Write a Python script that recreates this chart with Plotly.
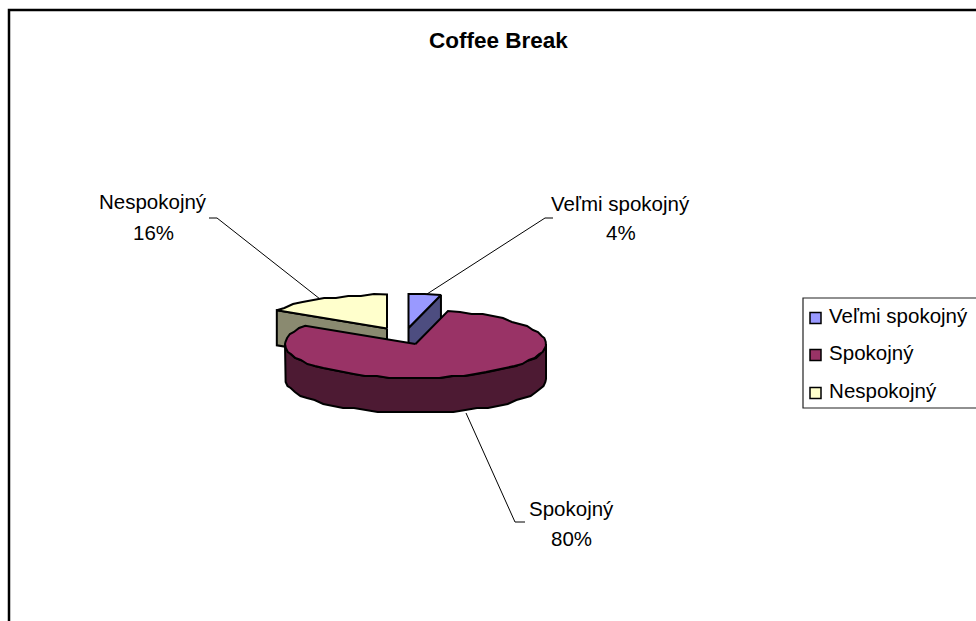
import numpy as np
import plotly.graph_objects as go

categories = ["Veľmi spokojný", "Spokojný", "Nespokojný"]
percent = [4, 80, 16]
top_colors = ["#9999FF", "#993366", "#FFFFCC"]
side_colors = ["#4D4D80", "#4D1A33", "#8A8A70"]
title_text = "Coffee Break"

W, H = 976, 621
RX, RY, DEPTH = 130.5, 34, 35
apex = {0: (408.5, 328), 1: (415.5, 344), 2: (387, 328.5)}
FONT = "Liberation Sans, Arial, sans-serif"
LABEL_SIZE = 20.5

# slice start/end angles, clockwise from the top, derived from the values
edges = np.concatenate([[0], np.cumsum(percent)]) / sum(percent) * 2 * np.pi


def rim(cx, cy, a0, a1, dy=0):
    # coarse sampling with snapped heights gives the bumpy raster outline of the original
    n = max(2, int(abs(a1 - a0) / np.radians(5.5)) + 1) if a1 != a0 else 1
    t = np.linspace(a0, a1, n)
    x = cx + RX * np.sin(t)
    y = cy - RY * np.cos(t) + dy
    if n > 2:
        y[1:-1] = np.round(y[1:-1] / 2) * 2
    return x, y


fig = go.Figure()


def poly(x, y, color):
    fig.add_trace(go.Scatter(
        x=list(x), y=list(y), mode="lines", fill="toself", fillcolor=color,
        line=dict(color="black", width=2), hoverinfo="skip", showlegend=False))


for i in [2, 0, 1]:  # back slices first, the large slice lies in front
    cx, cy = apex[i]
    a0, a1 = edges[i], edges[i + 1]
    if i == 0:  # cut face on the trailing edge
        ex, ey = rim(cx, cy, a1, a1)
        poly([cx, ex[0], ex[0], cx, cx], [cy, ey[0], ey[0] + DEPTH, cy + DEPTH, cy], side_colors[i])
    if i == 2:  # cut face on the leading edge
        ex, ey = rim(cx, cy, a0, a0)
        poly([cx, ex[0], ex[0], cx, cx], [cy, ey[0], ey[0] + DEPTH, cy + DEPTH, cy], side_colors[i])
    if i == 1:  # outer wall of the front half
        tx, ty = rim(cx, cy, np.pi / 2, 3 * np.pi / 2)
        bx, by = rim(cx, cy, 3 * np.pi / 2, np.pi / 2, dy=DEPTH)
        poly(np.r_[tx, bx, tx[0]], np.r_[ty, by, ty[0]], side_colors[i])
    rx, ry = rim(cx, cy, a0, a1)
    poly(np.r_[cx, rx, cx], np.r_[cy, ry, cy], top_colors[i])

# leader lines
leaders = [
    ([427, 545, 553], [294, 218, 218]),
    ([466, 515, 525], [413, 522, 522]),
    ([320, 217, 209], [299, 218, 218]),
]
for lx, ly in leaders:
    fig.add_trace(go.Scatter(x=lx, y=ly, mode="lines", line=dict(color="black", width=1),
                             hoverinfo="skip", showlegend=False))

# legend, one swatch and label per category
legend_y = [317, 354, 392]
for name, color, ly in zip(categories, top_colors, legend_y):
    fig.add_trace(go.Scatter(
        x=[815.5], y=[ly + 1], mode="markers+text", name=name,
        marker=dict(symbol="square", size=11, color=color, line=dict(color="black", width=1.5)),
        text=["<span> </span>" + name], textposition="middle right",
        textfont=dict(family=FONT, size=LABEL_SIZE, color="black"),
        hoverinfo="skip", showlegend=False))

annotations = [dict(x=498.5, y=40, text=f"<b>{title_text}</b>", showarrow=False,
                    font=dict(family=FONT, size=22.5, color="black"))]
label_pos = [(620.5, 203, 232), (571, 508, 538), (153, 201, 232)]
for name, value, (x, y1, y2) in zip(categories, percent, label_pos):
    annotations.append(dict(x=x, y=y1, text=name, showarrow=False,
                            font=dict(family=FONT, size=LABEL_SIZE, color="black")))
    annotations.append(dict(x=x, y=y2, text=f"{value}%", showarrow=False,
                            font=dict(family=FONT, size=LABEL_SIZE, color="black")))
for a in annotations:
    a.update(xref="x", yref="y")

fig.update_layout(
    width=W, height=H, margin=dict(l=0, r=0, t=0, b=0),
    paper_bgcolor="white", plot_bgcolor="white", showlegend=False,
    xaxis=dict(range=[0, W], visible=False, fixedrange=True),
    yaxis=dict(range=[H, 0], visible=False, fixedrange=True),
    annotations=annotations,
    shapes=[
        dict(type="rect", x0=9, y0=10, x1=W + 30, y1=H + 30, xref="x", yref="y",
             line=dict(color="black", width=2.5), layer="below"),
        dict(type="rect", x0=803, y0=298, x1=W + 30, y1=408, xref="x", yref="y",
             line=dict(color="#222222", width=1.2), layer="below"),
    ],
)

fig.write_html("out.html", config=dict(displayModeBar=False),
               post_script="document.body.style.margin='0';document.documentElement.style.overflow='hidden';")
